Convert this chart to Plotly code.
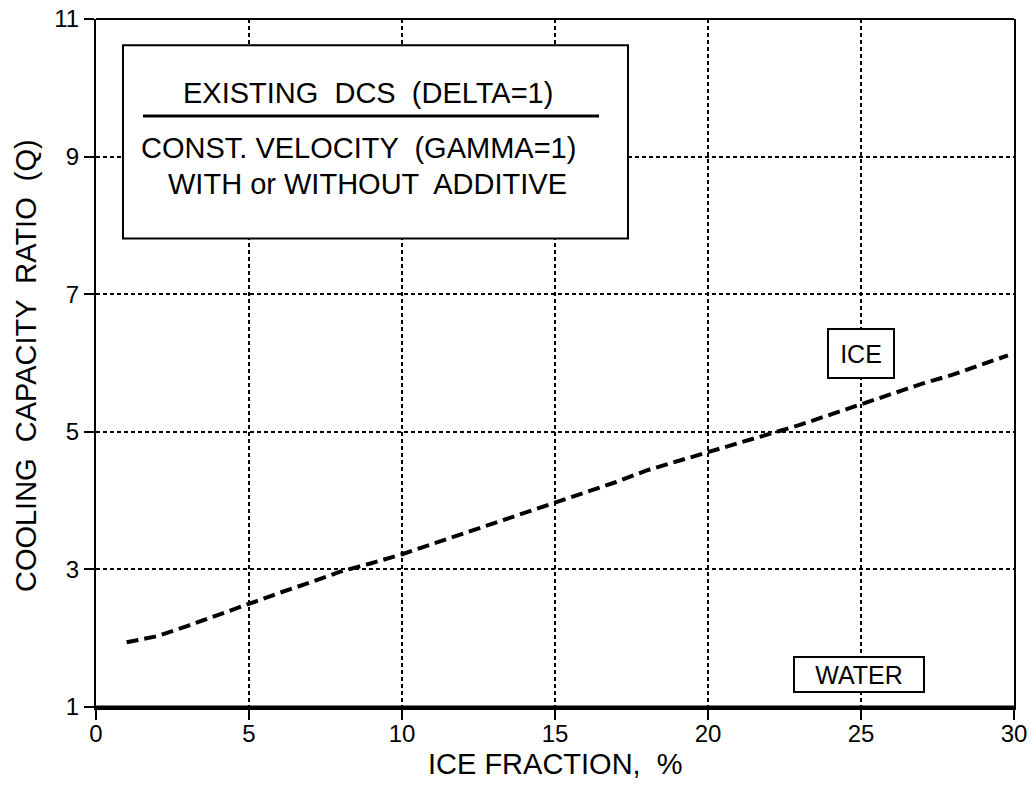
import plotly.graph_objects as go

# ---- data ----
ice_fraction = [1, 2, 3, 4, 5, 6, 7, 8, 9, 10, 11, 12, 13, 14, 15,
                16, 17, 18, 19, 20, 21, 22, 23, 24, 25, 26, 27, 28, 29, 29.8]
ice_q = [1.94, 2.03, 2.18, 2.34, 2.51, 2.66, 2.81, 2.97, 3.09, 3.22,
         3.37, 3.52, 3.67, 3.81, 3.96, 4.12, 4.27, 4.44, 4.57, 4.70,
         4.83, 4.96, 5.10, 5.25, 5.40, 5.55, 5.70, 5.83, 5.98, 6.11]
water_fraction = [0, 30]
water_q = [1, 1]

x_ticks = [0, 5, 10, 15, 20, 25, 30]
y_ticks = [1, 3, 5, 7, 9, 11]

legend_lines = ["EXISTING  DCS  (DELTA=1)",
                "CONST. VELOCITY  (GAMMA=1)",
                "WITH or WITHOUT  ADDITIVE"]

FONT = "Liberation Sans, Arial, sans-serif"

fig = go.Figure()
fig.add_trace(go.Scatter(x=water_fraction, y=water_q, mode="lines",
                         line=dict(color="black", width=3),
                         showlegend=False, cliponaxis=False))
fig.add_trace(go.Scatter(x=ice_fraction, y=ice_q, mode="lines",
                         line=dict(color="black", width=4, dash="12px,6px"),
                         showlegend=False))

fig.update_layout(
    width=1036, height=785,
    margin=dict(l=88, r=30, t=11, b=86),
    paper_bgcolor="white", plot_bgcolor="white",
    font=dict(family=FONT, color="black"),
    xaxis=dict(range=[0, 30], tickvals=x_ticks, ticks="outside", ticklen=10,
               tickwidth=2, tickcolor="black", showline=True, linewidth=3,
               linecolor="black", showgrid=True, gridcolor="black",
               gridwidth=2, griddash="4px,3px", zeroline=False,
               automargin=False,
               ticklabeloverflow="allow", ticklabelstandoff=-7,
               tickfont=dict(size=24, family=FONT)),
    yaxis=dict(range=[1, 11], tickvals=y_ticks, ticks="outside", ticklen=10,
               tickwidth=2, tickcolor="black", showline=True, linewidth=2,
               linecolor="black", mirror=True, showgrid=True,
               gridcolor="black", gridwidth=2, griddash="4px,3px",
               zeroline=False, automargin=False, ticklabeloverflow="allow",
               tickfont=dict(size=24, family=FONT)),
)

# top border
fig.add_shape(type="line", xref="paper", yref="paper", x0=0, x1=1, y0=1, y1=1,
              line=dict(color="black", width=2))

# legend box
fig.add_shape(type="rect", xref="paper", yref="paper",
              x0=0.0294, x1=0.5795, y0=0.681, y1=0.962,
              line=dict(color="black", width=2), fillcolor="white",
              layer="above")
fig.add_shape(type="line", xref="paper", yref="paper",
              x0=0.0512, x1=0.548, y0=0.859, y1=0.859,
              line=dict(color="black", width=3), layer="above")

legend_pos = [(0.296, 0.893), (0.286, 0.813), (0.296, 0.760)]
for txt, (px, py) in zip(legend_lines, legend_pos):
    fig.add_annotation(text=txt, xref="paper", yref="paper", x=px, y=py,
                       xanchor="center", yanchor="middle", showarrow=False,
                       font=dict(size=29, family=FONT, color="black"))

# series labels
fig.add_annotation(text="ICE", x=25.0, y=6.14, showarrow=False,
                   xanchor="center", yanchor="middle",
                   width=62, height=45, borderpad=1, borderwidth=2,
                   bordercolor="black", bgcolor="white",
                   font=dict(size=25, family=FONT, color="black"))
fig.add_annotation(text="WATER", x=24.95, y=1.47, showarrow=False,
                   xanchor="center", yanchor="middle",
                   width=126, height=31, borderpad=1, borderwidth=2,
                   bordercolor="black", bgcolor="white",
                   font=dict(size=25, family=FONT, color="black"))

# axis titles
fig.add_annotation(text="ICE FRACTION,  %", xref="paper", yref="paper",
                   x=0.5, y=-0.083, xanchor="center", yanchor="middle",
                   showarrow=False, font=dict(size=29, family=FONT))
fig.add_annotation(text="COOLING  CAPACITY  RATIO  (Q)", xref="paper",
                   yref="paper", x=-0.077, y=0.496, xanchor="center",
                   yanchor="middle", textangle=-90, showarrow=False,
                   font=dict(size=29, family=FONT))

fig.write_html("out.html")
